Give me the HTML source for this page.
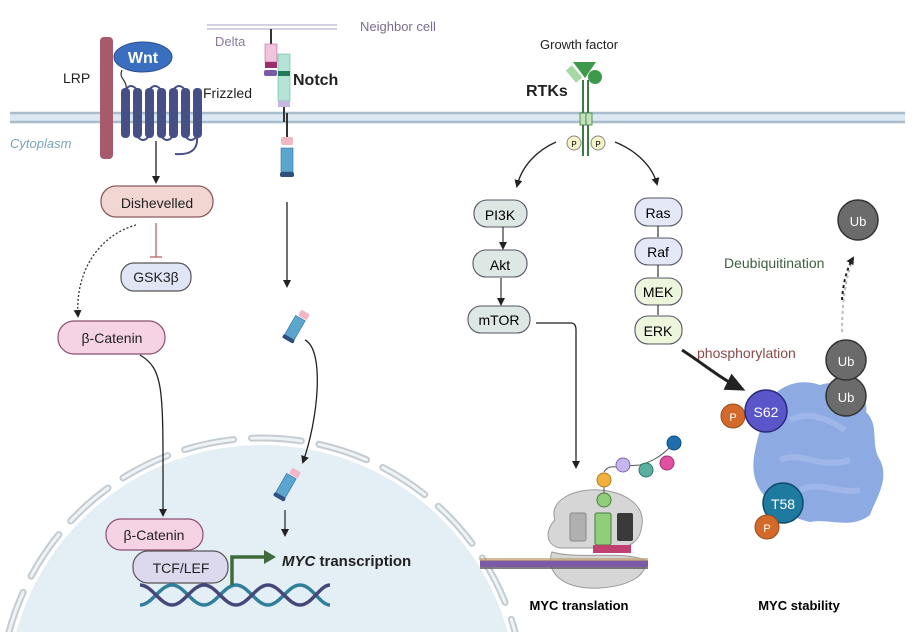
<!DOCTYPE html>
<html><head><meta charset="utf-8"><style>
html,body{margin:0;padding:0;background:#fff;width:917px;height:642px;overflow:hidden}
svg{display:block;font-family:"Liberation Sans",sans-serif}
</style></head><body>
<svg width="917" height="642" viewBox="0 0 917 642" xmlns="http://www.w3.org/2000/svg">
<defs>
<marker id="ah" markerWidth="8" markerHeight="8" refX="6" refY="4" orient="auto" markerUnits="userSpaceOnUse"><path d="M0,0 L8,4 L0,8 z" fill="#222"/></marker>
<marker id="ahg" markerWidth="12" markerHeight="14" refX="4" refY="7" orient="auto" markerUnits="userSpaceOnUse"><path d="M0,0 L12,7 L0,14 z" fill="#3d6b3d"/></marker>
<marker id="ahb" markerWidth="20" markerHeight="18" refX="14" refY="9" orient="auto" markerUnits="userSpaceOnUse"><path d="M0,0 L20,9 L0,18 z" fill="#222"/></marker>
<clipPath id="pg"><rect x="0" y="0" width="917" height="632"/></clipPath>
</defs>
<g clip-path="url(#pg)">
<ellipse cx="262" cy="700" rx="255" ry="255" fill="#e4eef5"/>
<ellipse cx="262" cy="700" rx="262" ry="262" fill="none" stroke="#c4ccd2" stroke-width="7" stroke-dasharray="50 18" stroke-linecap="round"/>
<ellipse cx="262" cy="700" rx="262" ry="262" fill="none" stroke="#eef3f6" stroke-width="3" stroke-dasharray="50 18" stroke-linecap="round"/>
</g>
<rect x="10" y="112" width="895" height="10" fill="#dbe8f2"/>
<line x1="10" y1="113" x2="905" y2="113" stroke="#a9bccb" stroke-width="2.5"/>
<line x1="10" y1="122" x2="905" y2="122" stroke="#a9bccb" stroke-width="2.5"/>
<text x="10" y="148" font-size="13" font-style="italic" fill="#7aa3b8">Cytoplasm</text>

<rect x="100" y="37" width="13" height="122" rx="4" fill="#a65a6c"/>
<text x="63" y="83" font-size="14" fill="#222">LRP</text>
<path d="M122,70 C118,80 128,78 126,92" fill="none" stroke="#333" stroke-width="1.2"/>
<g fill="#474f87">
<rect x="121" y="88" width="9" height="50" rx="4"/><rect x="133" y="88" width="9" height="50" rx="4"/>
<rect x="145" y="88" width="9" height="50" rx="4"/><rect x="157" y="88" width="9" height="50" rx="4"/>
<rect x="169" y="88" width="9" height="50" rx="4"/><rect x="181" y="88" width="9" height="50" rx="4"/>
<rect x="193" y="88" width="9" height="50" rx="4"/>
</g>
<path d="M125,90 q6,-8 12,0 M149,90 q6,-8 12,0 M173,90 q6,-8 12,0 M137,136 q6,8 12,0 M161,136 q6,8 12,0 M185,136 q6,8 12,0 M197,136 q2,20 -22,18" fill="none" stroke="#474f87" stroke-width="2"/>
<ellipse cx="143" cy="57" rx="29" ry="15" fill="#3a6fbf" stroke="#2a4f8f"/>
<text x="143" y="63" font-size="16" font-weight="bold" fill="#fff" text-anchor="middle">Wnt</text>
<text x="203" y="98" font-size="14" fill="#222">Frizzled</text>
<line x1="156" y1="141" x2="156" y2="182" stroke="#222" stroke-width="1.3" marker-end="url(#ah)"/>
<rect x="101" y="186" width="112" height="31" rx="15" fill="#f1d6d2" stroke="#8a5b5b" stroke-width="1.3"/>
<text x="157" y="208" font-size="14" text-anchor="middle" fill="#222">Dishevelled</text>
<line x1="156" y1="223" x2="156" y2="257" stroke="#b56565" stroke-width="1.3"/>
<line x1="150" y1="257" x2="162" y2="257" stroke="#b56565" stroke-width="1.3"/>
<rect x="121" y="263" width="70" height="28" rx="13" fill="#e0e6f5" stroke="#555" stroke-width="1.2"/>
<text x="156" y="282" font-size="14" text-anchor="middle" fill="#222">GSK3β</text>
<path d="M136,225 C100,235 75,270 78,316" fill="none" stroke="#333" stroke-width="1.3" stroke-dasharray="2 2" marker-end="url(#ah)"/>
<rect x="58" y="321" width="107" height="33" rx="16" fill="#f5d3e4" stroke="#8a4f70" stroke-width="1.2"/>
<text x="112" y="343" font-size="14" text-anchor="middle" fill="#222">β-Catenin</text>
<path d="M140,355 C165,370 163,390 163,515" fill="none" stroke="#222" stroke-width="1.3" marker-end="url(#ah)"/>
<rect x="106" y="519" width="97" height="31" rx="15" fill="#f5d3e4" stroke="#8a4f70" stroke-width="1.2"/>
<text x="154" y="540" font-size="14" text-anchor="middle" fill="#222">β-Catenin</text>
<rect x="133" y="551" width="95" height="32" rx="15" fill="#dcd8ee" stroke="#555" stroke-width="1.2"/>
<text x="181" y="573" font-size="14" text-anchor="middle" fill="#222">TCF/LEF</text>
<path d="M140,605 C152,605 160,585 172,585 C184,585 192,605 204,605 C216,605 224,585 236,585 C248,585 256,605 268,605 C280,605 288,585 300,585 C312,585 320,605 330,605" fill="none" stroke="#2f7f9c" stroke-width="3.5"/>
<path d="M140,585 C152,585 160,605 172,605 C184,605 192,585 204,585 C216,585 224,605 236,605 C248,605 256,585 268,585 C280,585 288,605 300,605 C312,605 320,585 330,585" fill="none" stroke="#47467a" stroke-width="3.5"/>
<path d="M232,585 L232,557 L268,557" fill="none" stroke="#3d6b3d" stroke-width="3.5" marker-end="url(#ahg)"/>
<text x="282" y="566" font-size="15" font-weight="bold" fill="#222"><tspan font-style="italic">MYC</tspan>  transcription</text>

<line x1="207" y1="25" x2="337" y2="25" stroke="#c9c2d6" stroke-width="1.5"/>
<line x1="207" y1="29" x2="337" y2="29" stroke="#c9c2d6" stroke-width="1.5"/>
<text x="360" y="31" font-size="13" fill="#7d6b8e">Neighbor cell</text>
<text x="215" y="46" font-size="13" fill="#8a7a9a">Delta</text>
<line x1="271" y1="29" x2="271" y2="44" stroke="#333" stroke-width="2"/>
<rect x="265" y="44" width="12" height="18" fill="#f0c4dc" stroke="#b06a94" stroke-width="0.6"/>
<rect x="265" y="62" width="12" height="6" fill="#9b2f6d"/>
<rect x="264" y="70" width="13" height="6" rx="2" fill="#7b5aa8"/>
<rect x="278" y="54" width="12" height="47" fill="#b5e3d6" stroke="#6ab8a2" stroke-width="0.6"/>
<rect x="278" y="71" width="12" height="5" fill="#1e7a5a"/>
<rect x="278" y="101" width="12" height="6" fill="#c6b6e2"/>
<line x1="284" y1="107" x2="284" y2="122" stroke="#333" stroke-width="2"/>
<line x1="287" y1="113" x2="287" y2="138" stroke="#333" stroke-width="2"/>
<text x="293" y="85" font-size="16" font-weight="bold" fill="#222">Notch</text>
<rect x="281" y="137" width="12" height="8" rx="2" fill="#f2b6c6"/>
<rect x="281" y="148" width="12" height="24" fill="#5aa6cf" stroke="#2f6f9f" stroke-width="0.6"/>
<rect x="280" y="172" width="14" height="5" rx="2" fill="#2f4f7f"/>
<line x1="287" y1="202" x2="287" y2="286" stroke="#222" stroke-width="1.3" marker-end="url(#ah)"/>
<g transform="translate(293,330) rotate(30)"><rect x="-3" y="-22" width="10" height="7" rx="2" fill="#f2b6c6"/><rect x="-5" y="-14" width="11" height="22" fill="#5aa6cf" stroke="#2f6f9f" stroke-width="0.6"/><rect x="-6" y="8" width="13" height="4" rx="2" fill="#2f4f7f"/></g>
<path d="M305,340 C325,350 318,420 303,462" fill="none" stroke="#222" stroke-width="1.3" marker-end="url(#ah)"/>
<g transform="translate(284,488) rotate(30)"><rect x="-3" y="-22" width="10" height="7" rx="2" fill="#f2b6c6"/><rect x="-5" y="-14" width="11" height="22" fill="#5aa6cf" stroke="#2f6f9f" stroke-width="0.6"/><rect x="-6" y="8" width="13" height="4" rx="2" fill="#2f4f7f"/></g>
<line x1="285" y1="510" x2="285" y2="535" stroke="#222" stroke-width="1.2" marker-end="url(#ah)"/>

<text x="540" y="49" font-size="13" fill="#222">Growth factor</text>
<text x="526" y="96" font-size="16" font-weight="bold" fill="#222">RTKs</text>
<path d="M573,62 L596,62 L585,78 z" fill="#3d9a4a"/>
<circle cx="595" cy="77" r="7" fill="#3d9a4a"/>
<rect x="570" y="66" width="8" height="16" fill="#a6d8a4" transform="rotate(-40 574 74)"/>
<line x1="583" y1="80" x2="583" y2="156" stroke="#3d7a44" stroke-width="2"/>
<line x1="588" y1="80" x2="588" y2="156" stroke="#3d7a44" stroke-width="2"/>
<rect x="580" y="113" width="6" height="12" fill="#c2e4b8" stroke="#3d7a44" stroke-width="0.8"/>
<rect x="586" y="113" width="6" height="12" fill="#c2e4b8" stroke="#3d7a44" stroke-width="0.8"/>
<circle cx="574" cy="143" r="7" fill="#f5f3c8" stroke="#888"/><text x="574" y="147" font-size="8" text-anchor="middle">P</text>
<circle cx="598" cy="143" r="7" fill="#f5f3c8" stroke="#888"/><text x="598" y="147" font-size="8" text-anchor="middle">P</text>
<path d="M556,142 C538,150 522,165 517,186" fill="none" stroke="#222" stroke-width="1.3" marker-end="url(#ah)"/>
<path d="M615,142 C635,150 652,165 657,184" fill="none" stroke="#222" stroke-width="1.3" marker-end="url(#ah)"/>
<rect x="474" y="200" width="53" height="27" rx="13" fill="#dde8e4" stroke="#556" stroke-width="1.1"/>
<text x="500" y="220" font-size="14" text-anchor="middle">PI3K</text>
<line x1="503" y1="227" x2="503" y2="248" stroke="#222" stroke-width="1.1" marker-end="url(#ah)"/>
<rect x="473" y="250" width="54" height="27" rx="13" fill="#dde8e4" stroke="#556" stroke-width="1.1"/>
<text x="500" y="270" font-size="14" text-anchor="middle">Akt</text>
<line x1="501" y1="278" x2="501" y2="304" stroke="#222" stroke-width="1.1" marker-end="url(#ah)"/>
<rect x="468" y="306" width="62" height="27" rx="13" fill="#dde8e4" stroke="#556" stroke-width="1.1"/>
<text x="499" y="325" font-size="14" text-anchor="middle">mTOR</text>
<path d="M536,323 L571,323 Q576,323 576,330 L576,467" fill="none" stroke="#222" stroke-width="1.3" marker-end="url(#ah)"/>
<rect x="635" y="198" width="47" height="28" rx="13" fill="#e5e8f7" stroke="#556" stroke-width="1.1"/>
<text x="658" y="218" font-size="14" text-anchor="middle">Ras</text>
<line x1="658" y1="226" x2="658" y2="237" stroke="#222" stroke-width="1.1"/>
<rect x="635" y="238" width="47" height="27" rx="13" fill="#e5e8f7" stroke="#556" stroke-width="1.1"/>
<text x="658" y="257" font-size="14" text-anchor="middle">Raf</text>
<line x1="658" y1="265" x2="658" y2="277" stroke="#222" stroke-width="1.1"/>
<rect x="635" y="278" width="47" height="27" rx="13" fill="#edf5dc" stroke="#556" stroke-width="1.1"/>
<text x="658" y="297" font-size="14" text-anchor="middle">MEK</text>
<line x1="658" y1="305" x2="658" y2="315" stroke="#222" stroke-width="1.1"/>
<rect x="635" y="316" width="47" height="28" rx="13" fill="#edf5dc" stroke="#556" stroke-width="1.1"/>
<text x="658" y="336" font-size="14" text-anchor="middle">ERK</text>

<path d="M555,520 C548,500 575,488 600,490 C625,492 645,505 642,525 C640,545 625,550 605,548 L560,548 C545,545 545,530 555,520 z" fill="#d6d6d6" stroke="#999"/>
<path d="M552,552 C545,570 560,590 600,588 C630,586 648,575 645,560 C620,550 580,560 552,552 z" fill="#d6d6d6" stroke="#999"/>
<rect x="570" y="513" width="16" height="28" rx="2" fill="#b0b0b0" stroke="#888"/>
<rect x="595" y="513" width="16" height="32" rx="2" fill="#8fcf7a" stroke="#4a7a3a"/>
<rect x="617" y="513" width="16" height="28" rx="2" fill="#3a3a3a"/>
<rect x="480" y="560" width="168" height="7" fill="#7b5aa8"/>
<rect x="480" y="558" width="168" height="3" fill="#c2a070" opacity="0.7"/>
<rect x="593" y="545" width="38" height="8" fill="#c04070"/>
<line x1="480" y1="568" x2="648" y2="568" stroke="#555" stroke-width="1.5"/>
<path d="M604,498 L604,485 M604,472 C610,462 620,470 625,466 L640,465 C650,462 660,458 672,445" fill="none" stroke="#555" stroke-width="1"/>
<circle cx="604" cy="500" r="7" fill="#8fcf7a" stroke="#4a7a3a"/>
<circle cx="604" cy="480" r="7" fill="#f0b040" stroke="#b07a20"/>
<circle cx="623" cy="465" r="7" fill="#c6b6ee" stroke="#7a6ab0"/>
<circle cx="646" cy="470" r="7" fill="#5ab0a0" stroke="#2a7a6a"/>
<circle cx="667" cy="463" r="7" fill="#e050a0" stroke="#a03070"/>
<circle cx="674" cy="443" r="7" fill="#1f6faf" stroke="#0f4f7f"/>
<text x="579" y="610" font-size="13" font-weight="bold" text-anchor="middle">MYC  translation</text>

<text x="697" y="358" font-size="14" fill="#8a4a4a">phosphorylation</text>
<path d="M682,350 C705,365 720,378 740,388" fill="none" stroke="#222" stroke-width="3" marker-end="url(#ahb)"/>
<path d="M770,400 C780,385 800,378 820,385 C840,378 870,390 866,412 C880,425 870,445 880,460 C890,480 875,500 870,515 C850,530 830,518 810,522 C790,518 770,505 760,490 C748,470 755,450 760,430 C758,418 762,408 770,400 z" fill="#8eaae2"/>
<path d="M790,420 C810,410 830,420 845,430 M780,460 C800,450 820,470 850,460 M800,490 C820,480 840,495 860,490" fill="none" stroke="#a9c0ec" stroke-width="6" opacity="0.6"/>
<circle cx="733" cy="416" r="12" fill="#d46a2a" stroke="#9a4a1a"/><text x="733" y="421" font-size="11" fill="#fff" text-anchor="middle">P</text>
<circle cx="766" cy="411" r="21" fill="#5a55c8" stroke="#2a2a7a" stroke-width="1.5"/><text x="766" y="417" font-size="14" fill="#fff" text-anchor="middle">S62</text>
<circle cx="783" cy="503" r="20" fill="#1f7aa0" stroke="#0f4a6a" stroke-width="1.5"/><text x="783" y="509" font-size="14" fill="#fff" text-anchor="middle">T58</text>
<circle cx="767" cy="527" r="12" fill="#d46a2a" stroke="#9a4a1a"/><text x="767" y="532" font-size="11" fill="#fff" text-anchor="middle">P</text>
<circle cx="846" cy="396" r="20" fill="#6b6b6b" stroke="#333" stroke-width="1.5"/><text x="846" y="402" font-size="13" fill="#fff" text-anchor="middle">Ub</text>
<circle cx="846" cy="360" r="20" fill="#6b6b6b" stroke="#333" stroke-width="1.5"/><text x="846" y="366" font-size="13" fill="#fff" text-anchor="middle">Ub</text>
<circle cx="858" cy="220" r="20" fill="#6b6b6b" stroke="#333" stroke-width="1.5"/><text x="858" y="226" font-size="13" fill="#fff" text-anchor="middle">Ub</text>
<text x="724" y="268" font-size="14" fill="#3f5f3f">Deubiquitination</text>
<path d="M842,332 C842,305 845,280 853,258" fill="none" stroke="#bbb" stroke-width="2" stroke-dasharray="3 3"/>
<path d="M842,300 C843,285 846,270 853,258" fill="none" stroke="#222" stroke-width="2" stroke-dasharray="3 3" marker-end="url(#ah)"/>
<text x="799" y="610" font-size="13" font-weight="bold" text-anchor="middle">MYC  stability</text>
</svg>
</body></html>
